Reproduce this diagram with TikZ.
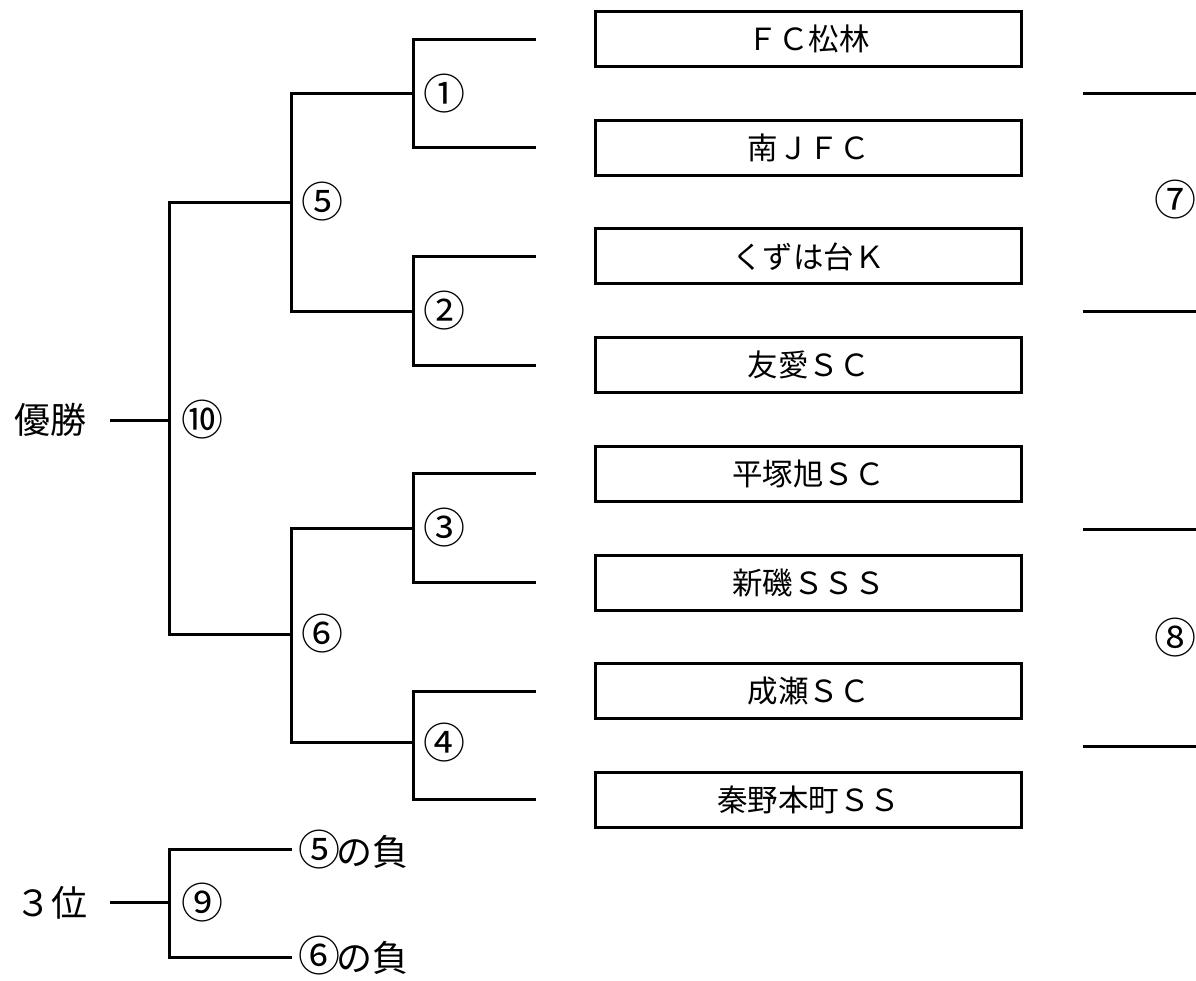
\documentclass[tikz,border=0pt]{standalone}
\usepackage{fontspec}
\setmainfont{Noto Sans CJK JP}
\usetikzlibrary{positioning}

\tikzset{
	team/.style={draw, line width=3pt, minimum width=426pt, minimum height=55pt, inner sep=0pt, font=\fontsize{30.5}{30.5}\selectfont},
	num/.style={inner sep=0pt, font=\fontsize{42}{42}\selectfont},
	side/.style={inner sep=0pt, font=\fontsize{36}{36}\selectfont},
	bline/.style={line width=3pt}
}
\newcommand{\cnum}[1]{{\fontsize{42}{42}\selectfont #1}\kern-4pt}

\begin{document}
\begin{tikzpicture}[x=1pt, y=-1pt]
		\useasboundingbox (0,0) rectangle (1196,980);
		% teams
		\node[team] (t1) at (808.5,39) {ＦＣ松林};
		\node[team, below=50.7pt of t1] (t2) {南ＪＦＣ};
		\node[team, below=50.7pt of t2] (t3) {くずは台Ｋ};
		\node[team, below=50.7pt of t3] (t4) {友愛ＳＣ};
		\node[team, below=50.7pt of t4] (t5) {平塚旭ＳＣ};
		\node[team, below=50.7pt of t5] (t6) {新磯ＳＳＳ};
		\node[team, below=50.7pt of t6] (t7) {成瀬ＳＣ};
		\node[team, below=50.7pt of t7] (t8) {秦野本町ＳＳ};
		\foreach \i in {1,...,8}
			\coordinate (e\i) at ([xshift=-58pt]t\i.west);

		% left bracket
		\coordinate (r1) at (413.5,93.5);
		\coordinate (r2) at (413.5,311);
		\coordinate (r3) at (413.5,528);
		\coordinate (r4) at (413.5,742.5);
		\coordinate (q5) at (291.5,202);
		\coordinate (q6) at (291.5,634);
		\coordinate (f) at (169.5,420);
		\coordinate (w) at (110,420);
		\draw[bline] (e1) -| (r1) |- (e2);
		\draw[bline] (e3) -| (r2) |- (e4);
		\draw[bline] (e5) -| (r3) |- (e6);
		\draw[bline] (e7) -| (r4) |- (e8);
		\draw[bline] (r1) -| (q5) |- (r2);
		\draw[bline] (r3) -| (q6) |- (r4);
		\draw[bline] (q5) -| (f) |- (q6);
		\draw[bline] (w) -- (f);
		\node[side] (win) at (50,420) {優勝};
		\node[num] (n1) at ([xshift=31pt]r1) {①};
		\node[num] (n2) at ([xshift=31pt]r2) {②};
		\node[num] (n3) at ([xshift=31pt]r3) {③};
		\node[num] (n4) at ([xshift=31pt]r4) {④};
		\node[num] (n5) at ([xshift=31pt]q5) {⑤};
		\node[num] (n6) at ([xshift=31pt]q6) {⑥};
		\node[num] (n10) at ([xshift=33pt]f) {⑩};

		% right side
		\foreach \y [count=\k] in {93.3,311.7,529,746} {
			\coordinate (a\k) at (1083,\y);
			\coordinate (b\k) at (1196,\y);
			\draw[bline] (a\k) -- (b\k);
		}
		\node[num] (n7) at (1175,200) {⑦};
		\node[num] (n8) at (1175,638) {⑧};

		% third place
		\coordinate (p1) at (291.5,849.3);
		\coordinate (p2) at (291.5,957.3);
		\coordinate (g) at (169.5,902.7);
		\coordinate (v) at (110,902.7);
		\draw[bline] (p1) -| (g) |- (p2);
		\draw[bline] (v) -- (g);
		\node[side] (third) at (51.5,902.7) {３位};
		\node[num] (n9) at ([xshift=33pt]g) {⑨};
		\node[side, anchor=west] (l5) at (298,849.3) {\cnum{⑤}の負};
		\node[side, anchor=west] (l6) at (298,956) {\cnum{⑥}の負};
	\end{tikzpicture}
\end{document}
